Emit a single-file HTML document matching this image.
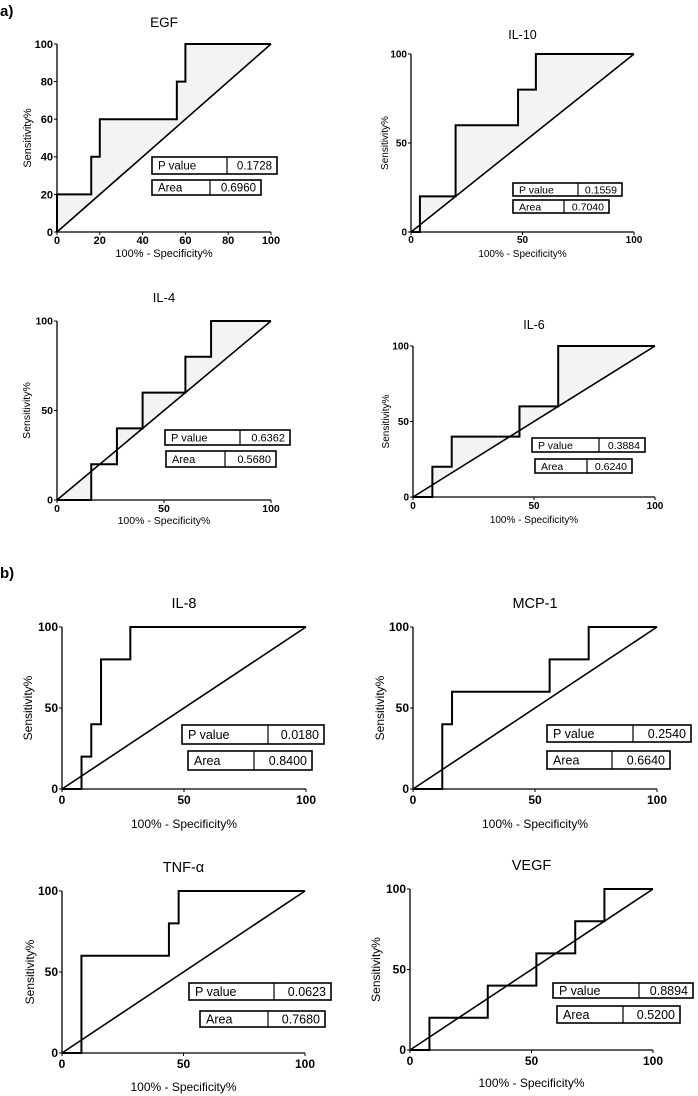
<!DOCTYPE html>
<html><head><meta charset="utf-8">
<style>
body{margin:0;background:#fff;width:698px;height:1096px;overflow:hidden;font-family:"Liberation Sans",sans-serif}
svg{display:block}
</style></head>
<body>
<svg id="fig" width="698" height="1096" xmlns="http://www.w3.org/2000/svg">
<text x="0" y="16" font-size="15" font-weight="bold" font-family="Liberation Sans, sans-serif">a)</text>
<text x="0" y="578" font-size="15" font-weight="bold" font-family="Liberation Sans, sans-serif">b)</text>
</svg>
<script>
// ROC data: 100% - specificity (x) and sensitivity (y)
const egfX=[0,0,16,16,20,20,56,56,60,60,100];
const egfY=[0,20,20,40,40,60,60,80,80,100,100];
const il10X=[0,4,4,20,20,48,48,56,56,100];
const il10Y=[0,0,20,20,60,60,80,80,100,100];
const il4X=[0,16,16,28,28,40,40,60,60,72,72,100];
const il4Y=[0,0,20,20,40,40,60,60,80,80,100,100];
const il6X=[0,8,8,16,16,44,44,60,60,100];
const il6Y=[0,0,20,20,40,40,60,60,100,100];
const il8X=[0,8,8,12,12,16,16,28,28,100];
const il8Y=[0,0,20,20,40,40,80,80,100,100];
const mcpX=[0,12,12,16,16,56,56,72,72,100];
const mcpY=[0,0,40,40,60,60,80,80,100,100];
const tnfX=[0,8,8,44,44,48,48,100];
const tnfY=[0,0,60,60,80,80,100,100];
const vegfX=[0,8,8,32,32,52,52,68,68,80,80,100];
const vegfY=[0,0,20,20,40,40,60,60,80,80,100,100];
const pValues=["0.1728","0.1559","0.6362","0.3884","0.0180","0.2540","0.0623","0.8894"];
const areas=["0.6960","0.7040","0.5680","0.6240","0.8400","0.6640","0.7680","0.5200"];
const titles=["EGF","IL-10","IL-4","IL-6","IL-8","MCP-1","TNF-α","VEGF"];
const ticksEGF=[0,20,40,60,80,100];
const ticksStd=[0,50,100];

const NS="http://www.w3.org/2000/svg";
const svg=document.getElementById('fig');
function mk(tag,attrs,parent){const e=document.createElementNS(NS,tag);for(const k in attrs)e.setAttribute(k,attrs[k]);(parent||svg).appendChild(e);return e;}

const layout=[
 {xs:egfX,ys:egfY,x0:57,x1:271,y0:232,y1:44,ty:27,fs:11,shade:true,ticks:ticksEGF,tickY:244,labY:257,ylabX:31,
  pb:[152,277,227,157,174],ab:[152,261,210,180,195]},
 {xs:il10X,ys:il10Y,x0:411,x1:634,y0:232,y1:54,ty:39,fs:10,shade:true,ticks:ticksStd,tickY:243,labY:257,ylabX:388,
  pb:[513,622,578,183,196],ab:[513,609,564,200,213]},
 {xs:il4X,ys:il4Y,x0:57,x1:271,y0:500,y1:321,ty:302,fs:10.5,shade:true,ticks:ticksStd,tickY:512,labY:524,ylabX:30,
  pb:[165,290,240,430,445],ab:[166,276,225,451,467]},
 {xs:il6X,ys:il6Y,x0:413,x1:655,y0:497,y1:346,ty:329,fs:10,shade:true,ticks:ticksStd,tickY:509,labY:523,ylabX:389,
  pb:[532,645,599,438,452],ab:[535,632,587,459,473]},
 {xs:il8X,ys:il8Y,x0:62,x1:306,y0:789,y1:627,ty:608,fs:12,shade:false,ticks:ticksStd,tickY:804,labY:828,ylabX:32,
  pb:[182,324,268,725,744],ab:[188,312,254,751,770]},
 {xs:mcpX,ys:mcpY,x0:413,x1:657,y0:789,y1:627,ty:608,fs:12,shade:false,ticks:ticksStd,tickY:804,labY:828,ylabX:384,
  pb:[547,691,633,725,742],ab:[547,670,612,751,769]},
 {xs:tnfX,ys:tnfY,x0:62,x1:305,y0:1053,y1:891,ty:872,fs:12,shade:false,ticks:ticksStd,tickY:1068,labY:1091,ylabX:34,
  pb:[189,331,274,983,1000],ab:[200,325,268,1011,1027]},
 {xs:vegfX,ys:vegfY,x0:410,x1:653,y0:1050,y1:889,ty:870,fs:12,shade:false,ticks:ticksStd,tickY:1065,labY:1087,ylabX:380,
  pb:[553,693,639,983,998],ab:[557,680,623,1006,1023]}
];

layout.forEach((p,i)=>{
  const sx=v=>p.x0+(p.x1-p.x0)*v/100;
  const sy=v=>p.y0+(p.y1-p.y0)*v/100;
  const g=mk('g',{});
  
  
  const ff='Liberation Sans, sans-serif';
  if(p.shade){
    let d='M'+sx(0)+','+sy(0);
    p.xs.forEach((x,j)=>{d+=' L'+sx(x)+','+sy(p.ys[j]);});
    d+=' Z';
    const sh=mk('path',{d:d,fill:'#f3f3f3',stroke:'none'},g);
    
    
  }
  const ax=mk('path',{d:`M${p.x0},${p.y1} L${p.x0},${p.y0} L${p.x1},${p.y0}`,fill:'none',stroke:'#000','stroke-width':1.3},g);
  
  
  p.ticks.forEach(t=>{
    mk('line',{x1:sx(t),x2:sx(t),y1:p.y0,y2:p.y0+3,stroke:'#000','stroke-width':1},g);
    mk('line',{x1:p.x0-3,x2:p.x0,y1:sy(t),y2:sy(t),stroke:'#000','stroke-width':1},g);
    const xt=mk('text',{x:sx(t),y:p.tickY,'font-size':p.fs,'font-weight':'bold','text-anchor':'middle','font-family':ff},g);
    xt.textContent=t;
    
    
    const yt=mk('text',{x:p.x0-4,y:sy(t)+p.fs*0.35,'font-size':p.fs,'font-weight':'bold','text-anchor':'end','font-family':ff},g);
    yt.textContent=t;
    
    
  });
  const dg=mk('line',{x1:sx(0),y1:sy(0),x2:sx(100),y2:sy(100),stroke:'#000','stroke-width':1.6},g);
  
  
  const pts=p.xs.map((x,j)=>sx(x)+','+sy(p.ys[j])).join(' ');
  const cv=mk('polyline',{points:pts,fill:'none',stroke:'#000','stroke-width':2},g);
  
  
  const tfs=p.fs+2.5;
  const tt=mk('text',{x:(p.x0+p.x1)/2,y:p.ty,'font-size':tfs,'text-anchor':'middle','font-family':ff},g);
  tt.textContent=titles[i];
  
  
  const xl=mk('text',{x:(p.x0+p.x1)/2,y:p.labY,'font-size':p.fs,'text-anchor':'middle','font-family':ff},g);
  xl.textContent='100% - Specificity%';
  
  
  const ym=(p.y0+p.y1)/2;
  const yl=mk('text',{x:p.ylabX,y:ym,'font-size':p.fs,'text-anchor':'middle','font-family':ff,transform:`rotate(-90 ${p.ylabX} ${ym})`},g);
  yl.textContent='Sensitivity%';
  
  
  const bfs=p.fs+0.5;
  [[p.pb,'P value',pValues[i],'p-value-box'],[p.ab,'Area',areas[i],'area-box']].forEach(b=>{
    const [l,r,dv,t,bt]=b[0];
    const bg=mk('g',{},g);
    
    
    mk('rect',{x:l,y:t,width:r-l,height:bt-t,fill:'#fff',stroke:'#000','stroke-width':1.6},bg);
    mk('line',{x1:dv,x2:dv,y1:t,y2:bt,stroke:'#000','stroke-width':1.2},bg);
    const cy=(t+bt)/2+bfs*0.36;
    const a=mk('text',{x:l+6,y:cy,'font-size':bfs,'font-family':ff},bg);a.textContent=b[1];
    const v=mk('text',{x:r-5,y:cy,'font-size':bfs,'text-anchor':'end','font-family':ff},bg);v.textContent=b[2];
  });
});
</script>
</body></html>
